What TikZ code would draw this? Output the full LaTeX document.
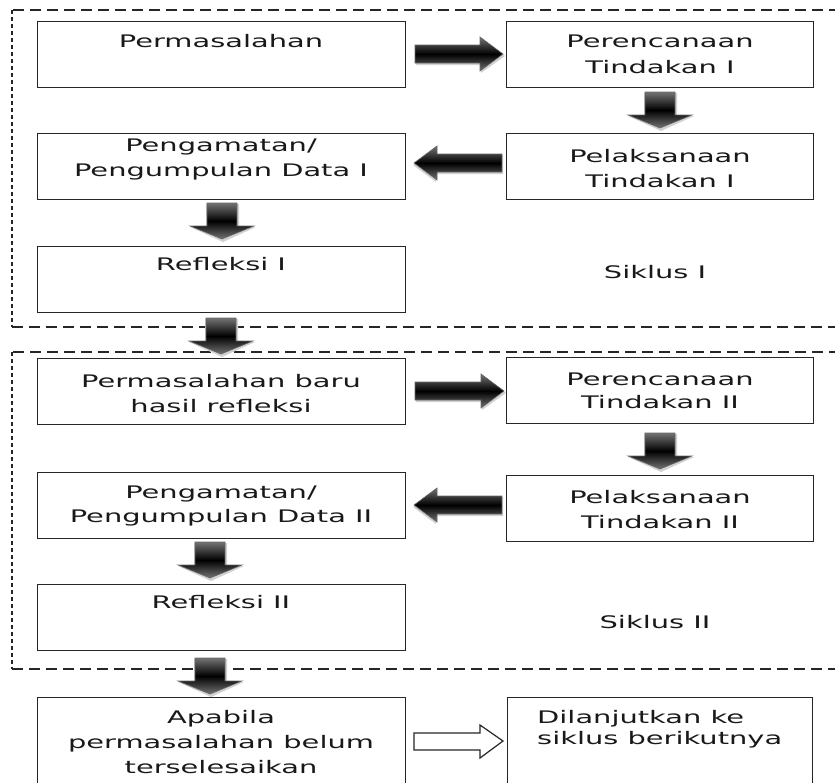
\documentclass[tikz,border=0pt]{standalone}
\usepackage{fontspec}
\setmainfont[FakeStretch=1.67]{DejaVu Sans}
\usetikzlibrary{calc}
\tikzset{
  box/.style={draw=black!85, line width=1.4pt, anchor=north west, inner sep=0pt},
  lbox/.style={box, minimum width=368pt, minimum height=66pt},
  rbox/.style={box, minimum width=307pt, minimum height=66pt},
  txt/.style={anchor=north, inner sep=0pt, align=center, text=black!90, font=\fontsize{17.3}{25}\selectfont},
  frame/.style={black!85, line width=1.3pt},
  hdash/.style={frame, dash pattern=on 11pt off 6pt},
  vdash/.style={frame, dash pattern=on 4pt off 3pt},
  blk/.style={top color=black!55, bottom color=black!55, middle color=black, draw=black!60, line width=0.6pt},
  shd/.style={fill=black!18},
  outl/.style={fill=white, draw=black!85, line width=1.2pt}
}
\newcommand{\DArr}[2]{%
  \fill[shd] (#1-16,#2+1) -- (#1+17,#2+1) -- (#1+17,#2+24) -- (#1+34,#2+24) -- (#1+1,#2+39) -- (#1-32,#2+24) -- (#1-16,#2+24) -- cycle;
  \path[blk] (#1-15,#2) -- (#1+15,#2) -- (#1+15,#2+23) -- (#1+32,#2+23) -- (#1,#2+36) -- (#1-32,#2+23) -- (#1-15,#2+23) -- cycle;}
\newcommand{\RArr}[3]{% y, left, right(tip)
  \fill[shd] (#2+1,#1-8) -- (#3-22,#1-8) -- (#3-22,#1-16) -- (#3+2,#1+2) -- (#3-22,#1+19) -- (#3-22,#1+11) -- (#2+1,#1+11) -- cycle;
  \path[blk] (#2,#1-9) -- (#3-23,#1-9) -- (#3-23,#1-17) -- (#3,#1) -- (#3-23,#1+17) -- (#3-23,#1+9) -- (#2,#1+9) -- cycle;}
\newcommand{\LArr}[3]{% y, left(tip), right
  \fill[shd] (#3+1,#1-8) -- (#2+22,#1-8) -- (#2+22,#1-16) -- (#2-1,#1+2) -- (#2+22,#1+19) -- (#2+22,#1+11) -- (#3+1,#1+11) -- cycle;
  \path[blk] (#3,#1-9) -- (#2+23,#1-9) -- (#2+23,#1-17) -- (#2,#1) -- (#2+23,#1+17) -- (#2+23,#1+9) -- (#3,#1+9) -- cycle;}
\begin{document}
\begin{tikzpicture}[x=1pt,y=-1pt]
\useasboundingbox (0,0) rectangle (835,782);
\clip (0,0) rectangle (835,782);
\fill[white] (0,0) rectangle (835,782);
% frames
\draw[hdash] (840,10) -- (12,10);
\draw[vdash] (12,10) -- (12,327);
\draw[hdash] (12,327) -- (840,327);
\draw[hdash] (840,352) -- (12,352);
\draw[vdash] (12,352) -- (12,669);
\draw[hdash] (12,669) -- (840,669);
% cycle I boxes
\node[lbox] (b1) at (37,21) {};
\node[rbox] (b2) at (506,21) {};
\node[rbox] (b3) at (506,133) {};
\node[lbox] (b4) at (37,133) {};
\node[lbox] (b5) at (37,246) {};
% cycle II boxes
\node[lbox] (c1) at (37,358) {};
\node[rbox] (c2) at (506,357) {};
\node[rbox] (c3) at (506,475) {};
\node[lbox] (c4) at (37,472) {};
\node[lbox] (c5) at (37,584) {};
% bottom boxes
\node[box, minimum width=368pt, minimum height=110pt] (d1) at (37,697) {};
\node[box, minimum width=305pt, minimum height=110pt] (d2) at (507,697) {};
% texts
\node[txt] (t1) at (221,34) {Permasalahan};
\node[txt, font=\fontsize{17.3}{26}\selectfont] (t2) at (660,35) {Perencanaan\\Tindakan I};
\node[txt] (t3) at (660,149) {Pelaksanaan\\Tindakan I};
\node[txt] (t4) at (221,139) {Pengamatan/\\Pengumpulan Data I};
\node[txt] (t5) at (221,257) {Refleksi I};
\node[txt] (s1) at (655,265) {Siklus I};
\node[txt] (u1) at (221,374) {Permasalahan baru\\hasil refleksi};
\node[txt, font=\fontsize{17.3}{23}\selectfont] (u2) at (660,373) {Perencanaan\\Tindakan II};
\node[txt] (u3) at (660,490) {Pelaksanaan\\Tindakan II};
\node[txt, font=\fontsize{17.3}{23.5}\selectfont] (u4) at (221,486) {Pengamatan/\\Pengumpulan Data II};
\node[txt] (u5) at (221,595) {Refleksi II};
\node[txt] (s2) at (655,615) {Siklus II};
\node[txt] (v1) at (221,710) {Apabila\\permasalahan belum\\terselesaikan};
\node[txt, anchor=north west, align=left, font=\fontsize{17.3}{21.5}\selectfont] (v2) at (537,710) {Dilanjutkan ke\\siklus berikutnya};
% block arrows
\RArr{54}{415}{503}
\LArr{163}{414}{502}
\DArr{660}{92}
\DArr{222}{203}
\DArr{221}{318}
\RArr{391}{415}{504}
\LArr{505}{414}{502}
\DArr{660}{433}
\DArr{210}{542}
\DArr{210}{658}
% outline arrow
\path[outl] (414,733) -- (480,733) -- (480,725) -- (503,741) -- (480,758) -- (480,750) -- (414,750) -- cycle;
\end{tikzpicture}
\end{document}
